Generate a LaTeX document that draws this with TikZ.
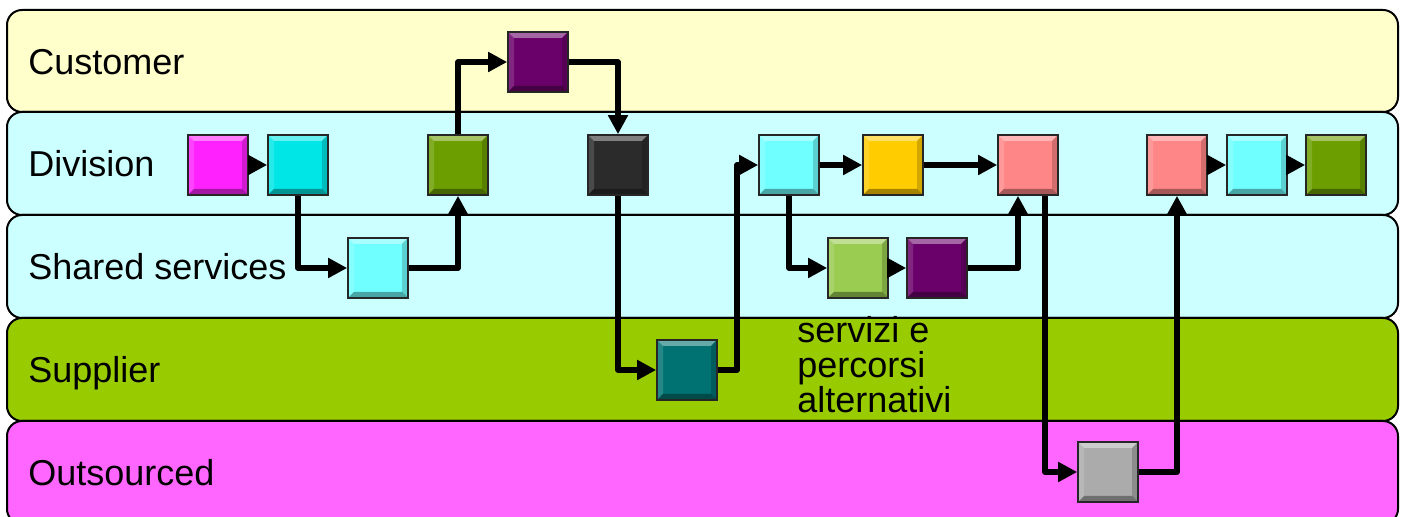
\documentclass[tikz,border=0pt]{standalone}
\usepackage{fontspec}
\setmainfont{Liberation Sans}
\usetikzlibrary{arrows.meta,calc}

% lane colours
\definecolor{custlane}{HTML}{FFFFCC}
\definecolor{divlane}{HTML}{CCFFFF}
\definecolor{supplane}{HTML}{99CC00}
\definecolor{outlane}{HTML}{FF66FF}
% step colours
\definecolor{cmag}{HTML}{FF22FF}
\definecolor{ccyan}{HTML}{00E6E6}
\definecolor{clcyan}{HTML}{70FFFF}
\definecolor{colive}{HTML}{6C9E00}
\definecolor{cplum}{HTML}{6A006A}
\definecolor{cblack}{HTML}{2B2B2B}
\definecolor{cgold}{HTML}{FFCC00}
\definecolor{csalmon}{HTML}{FF8686}
\definecolor{clime}{HTML}{99CC50}
\definecolor{cteal}{HTML}{007272}
\definecolor{cgrey}{HTML}{ABABAB}

\tikzset{
  lane/.style={draw=black,line width=1pt,rounded corners=7.5pt},
  lanelabel/.style={anchor=base west,inner sep=0pt,font=\fontsize{18}{18}\selectfont},
  stepbox/.style={draw=black!85,line width=0.8pt,fill=#1,minimum size=30pt,inner sep=0pt,
    path picture={
      \coordinate (bnw) at (path picture bounding box.north west);
      \coordinate (bne) at (path picture bounding box.north east);
      \coordinate (bsw) at (path picture bounding box.south west);
      \coordinate (bse) at (path picture bounding box.south east);
      % bevel: light on top/left, dark on bottom/right
      \fill[white,opacity=.4] (bnw) -- (bne) -- ([shift={(-3pt,-3pt)}]bne) -- ([shift={(3pt,-3pt)}]bnw) -- cycle;
      \fill[white,opacity=.15] (bnw) -- ([shift={(3pt,-3pt)}]bnw) -- ([shift={(3pt,3pt)}]bsw) -- (bsw) -- cycle;
      \fill[black,opacity=.35] (bsw) -- (bse) -- ([shift={(-3pt,3pt)}]bse) -- ([shift={(3pt,3pt)}]bsw) -- cycle;
      \fill[black,opacity=.18] (bse) -- ([shift={(-3pt,3pt)}]bse) -- ([shift={(-3pt,-3pt)}]bne) -- (bne) -- cycle;
    }},
  flow/.style={line width=2.8pt,line join=round,-{Triangle[length=9.5pt,width=9.5pt]}}
}

\begin{document}
\begin{tikzpicture}[x=0.5pt,y=-0.5pt]
  \useasboundingbox (0,0) rectangle (1405,517);

  % swim lanes
  \draw[lane,fill=custlane] (7,10) rectangle (1398,112);
  \draw[lane,fill=divlane] (7,112) rectangle (1398,215);
  \draw[lane,fill=divlane] (7,215) rectangle (1398,318);
  \draw[lane,fill=supplane] (7,318) rectangle (1398,421);
  \draw[lane,fill=outlane] (7,421) rectangle (1398,524);

  \node[lanelabel] (lcust) at (28,75) {Customer};
  \node[lanelabel] (ldiv) at (28,177) {Division};
  \node[lanelabel] (lshared) at (28,280) {Shared services};
  \node[lanelabel] (lsupp) at (28,383) {Supplier};
  \node[lanelabel] (lout) at (28,486) {Outsourced};

  % customer
  \node[stepbox=cplum] (pu1) at (538,62) {};

  % division
  \node[stepbox=cmag] (mag) at (218,165) {};
  \node[stepbox=ccyan] (cy1) at (298,165) {};
  \node[stepbox=colive] (ol1) at (458,165) {};
  \node[stepbox=cblack] (bk) at (618,165) {};
  \node[stepbox=clcyan] (cy2) at (789,165) {};
  \node[stepbox=cgold] (ye) at (893,165) {};
  \node[stepbox=csalmon] (pk1) at (1028,165) {};
  \node[stepbox=csalmon] (pk2) at (1177,165) {};
  \node[stepbox=clcyan] (cy3) at (1257,165) {};
  \node[stepbox=colive] (ol2) at (1336,165) {};

  % shared services
  \node[stepbox=clcyan] (ss1) at (378,268) {};
  \node[stepbox=clime] (lg) at (858,268) {};
  \node[stepbox=cplum] (pu2) at (937,268) {};

  % supplier
  \node[stepbox=cteal] (te) at (687,370) {};
  \node[anchor=north west,inner sep=0pt,align=left,font=\fontsize{18}{17.5}\selectfont]
    (alt) at (797,316) {servizi e\\percorsi\\alternativi};

  % outsourced
  \node[stepbox=cgrey] (gr) at (1108,472) {};

  % main path
  \draw[flow] (mag) -- (cy1);
  \draw[flow] (cy1) |- (ss1);
  \draw[flow] (ss1) -| (ol1);
  \draw[flow] (ol1) |- (pu1);
  \draw[flow] (pu1) -| (bk);
  \draw[flow] (bk) |- (te);
  \draw[flow] (te) -- ++(50,0) |- (cy2);
  \draw[flow] (cy2) -- (ye);
  \draw[flow] (ye) -- (pk1);

  % alternative branch
  \draw[flow] (cy2) |- (lg);
  \draw[flow] (lg) -- (pu2);
  \draw[flow] (pu2) -| ($(pk1.south)+(-10,0)$);

  % outsourced detour
  \draw[flow] ($(pk1.south)+(17,0)$) |- (gr);
  \draw[flow] (gr) -| (pk2);
  \draw[flow] (pk2) -- (cy3);
  \draw[flow] (cy3) -- (ol2);
\end{tikzpicture}
\end{document}
